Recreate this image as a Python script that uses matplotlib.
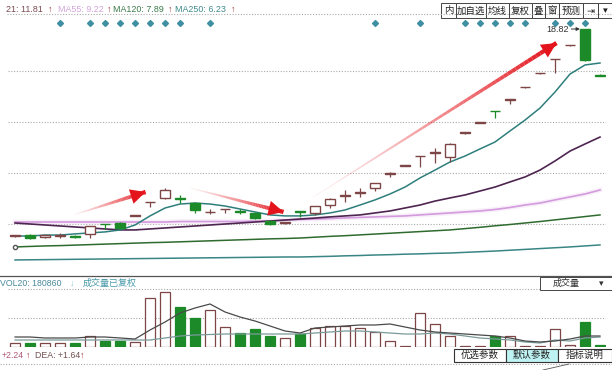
import numpy as np
import matplotlib
matplotlib.use('Agg')
import matplotlib.pyplot as plt
from matplotlib.collections import LineCollection
from matplotlib.patches import Rectangle

plt.rcParams['font.family'] = ['Liberation Sans', 'Noto Sans CJK SC', 'DejaVu Sans']

# candle data (price)
opens = [6.27, 6.33, 6.20, 6.30, 6.30, 6.40, 7.00, 7.06, 7.48, 8.31,
         8.58, 8.55, 8.27, 7.70, 7.88, 7.78, 7.67, 7.18, 7.06, 7.73,
         7.67, 8.15, 8.70, 8.88, 9.18, 10.03, 10.50, 11.10, 11.30, 11.06,
         12.50, 13.15, 13.85, 14.50, 15.28, 16.13, 16.98, 17.83, 18.82, 16.05]
highs = [6.35, 6.40, 6.36, 6.45, 6.33, 6.88, 7.00, 7.10, 7.50, 8.35,
         9.18, 8.76, 8.33, 7.91, 7.91, 7.90, 7.70, 7.22, 7.15, 7.73,
         8.09, 8.55, 9.06, 9.18, 9.49, 10.15, 10.55, 11.12, 11.60, 11.90,
         12.55, 13.20, 13.86, 14.52, 15.32, 16.17, 17.00, 17.87, 18.82, 16.07]
lows = [6.22, 6.12, 6.17, 6.18, 6.18, 6.15, 6.70, 6.70, 7.46, 8.03,
        8.50, 8.27, 7.67, 7.61, 7.67, 7.60, 7.30, 6.95, 6.98, 7.43,
        7.55, 7.97, 8.33, 8.64, 9.00, 9.85, 10.50, 10.46, 10.70, 10.76,
        12.48, 13.14, 13.40, 14.30, 15.27, 16.12, 16.15, 17.82, 16.90, 15.98]
closes = [6.30, 6.18, 6.33, 6.32, 6.20, 6.88, 6.98, 6.76, 7.50, 8.33,
          9.06, 8.50, 7.85, 7.75, 7.91, 7.72, 7.36, 7.00, 7.12, 7.71,
          8.09, 8.52, 8.73, 8.94, 9.49, 10.06, 10.53, 11.12, 11.33, 11.85,
          12.53, 13.18, 13.82, 14.52, 15.30, 16.15, 17.00, 17.85, 16.94, 16.00]

# moving averages on the price panel
ma10 = [6.27, 6.27, 6.33, 6.33, 6.40, 6.46, 6.52, 6.64, 6.94, 7.49,
        7.97, 8.21, 8.27, 8.21, 8.09, 7.91, 7.73, 7.55, 7.49, 7.49,
        7.55, 7.67, 7.85, 8.15, 8.46, 8.82, 9.24, 9.79, 10.27, 10.76,
        11.12, 11.55, 11.97, 12.64, 13.30, 14.03, 15.00, 16.09, 16.64, 16.76]
ma21 = [7.06, 7.00, 6.94, 6.88, 6.82, 6.76, 6.70, 6.64, 6.64, 6.70,
        6.76, 6.82, 6.88, 6.94, 7.00, 7.06, 7.12, 7.18, 7.24, 7.30,
        7.36, 7.43, 7.49, 7.55, 7.67, 7.79, 7.97, 8.15, 8.39, 8.58,
        8.76, 9.00, 9.24, 9.55, 9.85, 10.27, 10.82, 11.42, 11.85, 12.27]
ma55 = [7.12, 7.12, 7.12, 7.12, 7.12, 7.12, 7.12, 7.12, 7.12, 7.12,
        7.12, 7.15, 7.15, 7.15, 7.15, 7.15, 7.18, 7.18, 7.24, 7.27,
        7.30, 7.33, 7.37, 7.40, 7.43, 7.46, 7.49, 7.55, 7.61, 7.67,
        7.73, 7.79, 7.88, 8.00, 8.15, 8.27, 8.46, 8.64, 8.82, 9.06]
ma120 = [5.61, 5.64, 5.67, 5.69, 5.72, 5.75, 5.78, 5.81, 5.84, 5.87,
         5.89, 5.92, 5.95, 5.98, 6.01, 6.04, 6.07, 6.10, 6.12, 6.15,
         6.20, 6.25, 6.29, 6.34, 6.39, 6.44, 6.49, 6.54, 6.59, 6.64,
         6.72, 6.80, 6.89, 6.97, 7.06, 7.15, 7.25, 7.35, 7.45, 7.55]
ma250 = [4.82, 4.83, 4.84, 4.85, 4.86, 4.87, 4.88, 4.89, 4.90, 4.91,
         4.92, 4.93, 4.94, 4.95, 4.96, 4.97, 4.98, 4.99, 5.00, 5.00,
         5.02, 5.04, 5.07, 5.09, 5.12, 5.14, 5.17, 5.19, 5.22, 5.24,
         5.28, 5.32, 5.36, 5.41, 5.46, 5.51, 5.56, 5.61, 5.67, 5.73]

# volume panel
volume = [40000, 40000, 38000, 40000, 36000, 110000, 60000, 58000, 50000, 490000,
          550000, 400000, 290000, 370000, 200000, 140000, 180000, 110000, 90000, 130000,
          190000, 210000, 210000, 190000, 150000, 60000, 15000, 340000, 230000, 110000,
          15000, 15000, 110000, 110000, 15000, 15000, 180000, 20000, 250000, 20000]
vol_ma_a = [100000, 100000, 90000, 90000, 90000, 100000, 100000, 90000, 80000, 170000,
            250000, 340000, 390000, 430000, 350000, 300000, 260000, 210000, 160000, 140000,
            190000, 200000, 210000, 220000, 220000, 230000, 200000, 170000, 150000, 140000,
            130000, 120000, 110000, 90000, 60000, 50000, 60000, 80000, 110000, 110000]
vol_ma_b = [70000, 70000, 70000, 70000, 70000, 70000, 70000, 70000, 70000, 70000,
            90000, 110000, 120000, 125000, 130000, 130000, 130000, 130000, 130000, 130000,
            140000, 150000, 160000, 160000, 150000, 140000, 130000, 130000, 140000, 130000,
            110000, 90000, 80000, 70000, 50000, 40000, 70000, 60000, 90000, 100000]

grid_prices = [7.0, 10.1, 13.2, 16.3]
grid_volumes = [290000, 580000]
marker_days = [3, 5, 6, 7, 8, 9, 10, 11, 13, 24, 27, 30, 31, 32, 33, 34, 36, 37, 38]
# trend arrows: (day, price) tail -> head
arrows = [((3.9, 7.55), (8.7, 8.94)),
          ((11.7, 9.18), (17.9, 7.73)),
          ((19.9, 8.64), (36.1, 17.97))]

legend_items = [('21: 11.81', '#7a4a50'), ('MA55: 9.22', '#d4a4dc'),
                ('MA120: 7.89', '#3a7a4a'), ('MA250: 6.23', '#3f8a8a')]
toolbar = ['内', '加自选', '均线', '复权', '叠', '窗', '预测', '⇥', '▾']
buttons = ['优选参数', '默认参数', '指标说明']

W, H = 612, 370


def px(x, y):
    return x / W, 1 - y / H


fig = plt.figure(figsize=(6.12, 3.70), dpi=100)
fig.patch.set_facecolor('white')

days = np.arange(len(closes))
o = np.array(opens)
c = np.array(closes)
up = c >= o
up_col = '#7d4545'
dn_col = '#1d8a2a'
cols = [up_col if u else dn_col for u in up]

# ---- price panel ----
ax = fig.add_axes([8 / W, 1 - 272 / H, 598 / W, 258 / H])
ax.set_xlim(-0.47, 39.4)
ax.set_ylim(4.09, 19.73)
ax.axis('off')
for g in grid_prices:
    ax.axhline(g, color='#aaaaaa', lw=0.8, ls=(0, (1, 1.5)), zorder=0)

ax.plot(days, ma250, color='#3a8585', lw=1.1, zorder=1)
ax.plot(days, ma120, color='#2f6b2f', lw=1.1, zorder=1, marker='o', markevery=[0],
        ms=3, mfc='white', mec='#555555')
ax.plot(days, ma55, color='#ecd4f0', lw=3.5, alpha=0.35, zorder=1)
ax.plot(days, ma55, color='#d49ade', lw=1.2, zorder=1)
ax.plot(days, ma21, color='#4e2550', lw=1.2, zorder=1)
ax.plot(days, ma10, color='#2e7f7c', lw=1.1, zorder=1)

ax.vlines(days, lows, highs, colors=cols, lw=0.9, zorder=2)
body_h = np.maximum(np.abs(c - o), 0.05)
ax.bar(days, body_h, bottom=np.minimum(o, c), width=0.62,
       color=['white' if u else dn_col for u in up], edgecolor=cols,
       linewidth=1.0, zorder=3)

for (x0, y0), (x1, y1) in arrows:
    n = 60
    xs = np.linspace(x0, x1, n + 1)
    ys = np.linspace(y0, y1, n + 1)
    segs = [[(xs[k], ys[k]), (xs[k + 1], ys[k + 1])] for k in range(n)]
    t = np.linspace(0, 1, n)
    colors = [(0.89, 0.07, 0.1, 0.05 + 0.95 * tt ** 1.2) for tt in t]
    lc = LineCollection(segs, colors=colors, linewidths=0.6 + 2.6 * t,
                        capstyle='butt', zorder=4)
    ax.add_collection(lc)
    ax.annotate('', xy=(x1, y1), xytext=(x0 + (x1 - x0) * 0.9, y0 + (y1 - y0) * 0.9),
                arrowprops=dict(arrowstyle='-|>,head_length=0.9,head_width=0.45',
                                color='#e3141c', lw=0, shrinkA=0, shrinkB=0,
                                mutation_scale=12), zorder=5)

ax.annotate('18.82', xy=(37.66, max(highs)), xytext=(36.9, max(highs)),
            ha='right', va='center', fontsize=6.5, color='#333333',
            arrowprops=dict(arrowstyle='-|>', lw=0.7, color='#333333',
                            mutation_scale=5, shrinkA=0, shrinkB=0))

ax.plot(marker_days, [0.965] * len(marker_days), transform=ax.get_xaxis_transform(),
        ls='none', marker='D', ms=3, color='#3f8fa2', zorder=5, clip_on=False)

# ---- volume panel ----
av = fig.add_axes([8 / W, 1 - 347 / H, 598 / W, 71 / H])
av.set_xlim(-0.47, 39.4)
av.set_ylim(0, 710000)
av.axis('off')
for g in grid_volumes:
    av.axhline(g, color='#aaaaaa', lw=0.8, ls=(0, (1, 1.5)), zorder=0)
av.bar(days, volume, width=0.7, color=['white' if u else dn_col for u in up],
       edgecolor=cols, linewidth=0.9, zorder=2)
av.plot(days, vol_ma_b, color='#7a9a9a', lw=0.9, zorder=3)
av.plot(days, vol_ma_a, color='#4a4a4a', lw=0.9, zorder=3)

# ---- frame lines ----
fig.add_artist(plt.Line2D([px(7, 0)[0], 1], [px(0, 14)[1]] * 2, color='#aaaaaa',
                          lw=0.8, ls=(0, (1, 1.5))))
fig.add_artist(plt.Line2D([0, 1], [px(0, 276)[1]] * 2, color='#555555', lw=0.9))
fig.add_artist(plt.Line2D([0, 1], [px(0, 364)[1]] * 2, color='#aaaaaa',
                          lw=0.8, ls=(0, (1, 1.5))))

# ---- legend text ----
lx = [6, 58, 113, 175]
ar_x = [48, 107, 168, 231]
for (label, col), x, ar in zip(legend_items, lx, ar_x):
    fig.text(*px(x, 9), label, color=col, fontsize=6.4, va='center', ha='left')
    fig.text(*px(ar, 9), '↑', color='#a03030', fontsize=6.4, va='center', ha='left')

# ---- toolbar ----
edges = [441, 456, 486, 509, 532, 545, 559, 583, 598, 612]
for k, label in enumerate(toolbar):
    x0, x1 = edges[k], edges[k + 1]
    fig.add_artist(Rectangle(px(x0, 18), (x1 - x0) / W, 15 / H, transform=fig.transFigure,
                             facecolor='white', edgecolor='#444444', lw=0.7))
    fig.text(*px((x0 + x1) / 2, 11), label, fontsize=6.8, ha='center', va='center',
             color='#222222', family=['Noto Sans CJK SC', 'DejaVu Sans'])

# ---- volume header ----
fig.text(*px(0, 283), 'VOL20: 180860', color='#4a8a9a', fontsize=6.3, va='center')
fig.text(*px(70, 283), '↓', color='#8ac8d0', fontsize=6.3, va='center')
fig.text(*px(83, 283), '成交量已复权', color='#4a9aaa', fontsize=6.5, va='center',
         family=['Noto Sans CJK SC', 'DejaVu Sans'])
fig.add_artist(Rectangle(px(540, 290), 72 / W, 13 / H, transform=fig.transFigure,
                         facecolor='white', edgecolor='#444444', lw=0.7))
fig.text(*px(566, 283.5), '成交量', fontsize=6.5, ha='center', va='center',
         color='#333333', family=['Noto Sans CJK SC', 'DejaVu Sans'])
fig.text(*px(601, 283.5), '▾', fontsize=6.5, ha='center', va='center', color='#333333',
         family=['DejaVu Sans'])

# ---- MACD line ----
fig.text(*px(2, 355), '+2.24', color='#b05a78', fontsize=6.3, va='center')
fig.text(*px(26, 355), '↑', color='#a03030', fontsize=6.3, va='center')
fig.text(*px(35, 355), 'DEA: +1.64', color='#705050', fontsize=6.3, va='center')
fig.text(*px(80, 355), '↑', color='#a03030', fontsize=6.3, va='center')

# ---- bottom buttons ----
bx = [454, 506, 558, 612]
for k, label in enumerate(buttons):
    fc = '#bff2f2' if k == 1 else 'white'
    fig.add_artist(Rectangle(px(bx[k], 362), (bx[k + 1] - bx[k]) / W, 13 / H,
                             transform=fig.transFigure, facecolor=fc,
                             edgecolor='#333333', lw=0.8))
    fig.text(*px((bx[k] + bx[k + 1]) / 2, 355.5), label, fontsize=6.8, ha='center',
             va='center', color='#222222', family=['Noto Sans CJK SC', 'DejaVu Sans'])
fig.add_artist(plt.Line2D([px(543, 0)[0], px(569, 0)[0]], [px(0, 370)[1], px(0, 364)[1]],
                          color='#555555', lw=0.6))

fig.savefig('out.png', dpi=100)
